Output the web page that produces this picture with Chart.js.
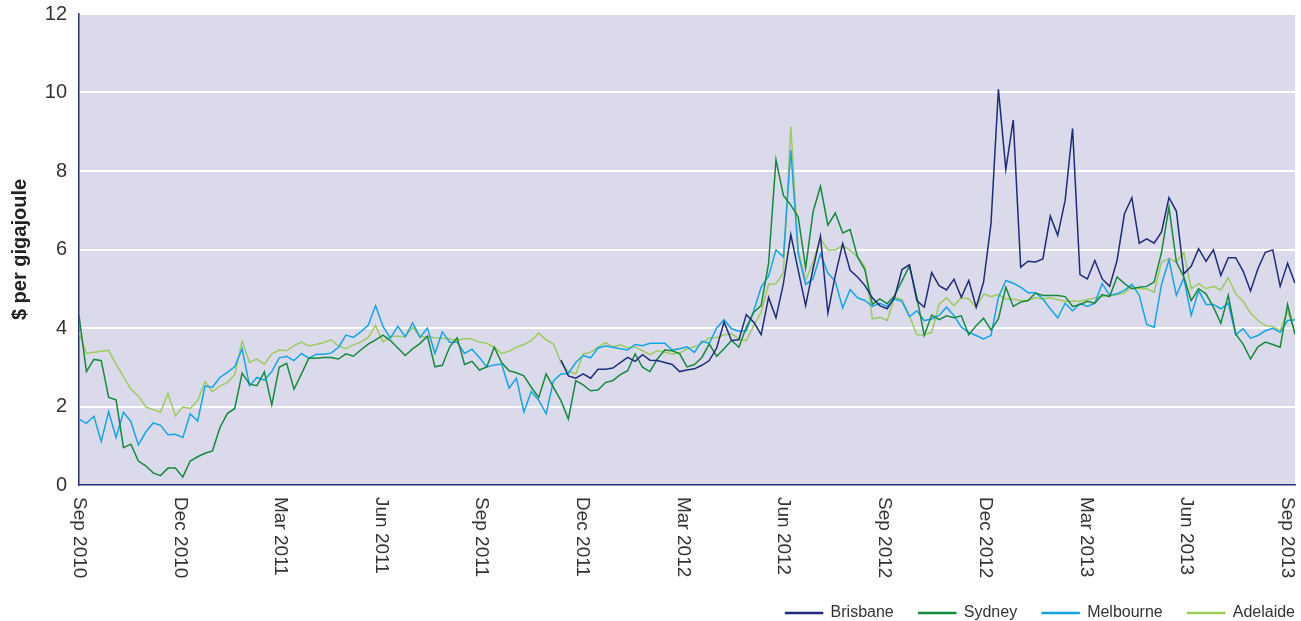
<!DOCTYPE html>
<html lang="en">
<head>
<meta charset="UTF-8" />
<title>Gas prices</title>
<style>
  * { margin: 0; padding: 0; }
  body { background: #fff; }
  .chartBox { width: 1301px; height: 621px; }
</style>
</head>
<body>
<div class="chartBox"><canvas id="myChart"></canvas></div>
<script src="https://cdn.jsdelivr.net/npm/chart.js@4.4.0/dist/chart.umd.min.js"></script>
<script>
// weekly prices, Sep 2010 - Sep 2013 ($ per gigajoule)
const tickLabels = ["Sep 2010", "Dec 2010", "Mar 2011", "Jun 2011", "Sep 2011", "Dec 2011", "Mar 2012",
    "Jun 2012", "Sep 2012", "Dec 2012", "Mar 2013", "Jun 2013", "Sep 2013"];
// position of each quarter label, in weeks from the first point
const tickWeeks = [0, 13.6, 27.2, 40.7, 54.3, 67.9, 81.5, 95.0, 108.6, 122.2, 135.8, 149.3, 162.9];

const sydney = [
    4.32, 2.89, 3.20, 3.17, 2.23, 2.17, 0.95, 1.04, 0.61, 0.49, 0.31, 0.24, 0.43, 0.43, 0.20, 0.61, 0.72, 0.81, 0.87, 1.46, 1.82, 1.95, 2.85, 2.57, 2.53, 2.88, 2.04, 3.00,
    3.10, 2.44, 2.83, 3.23, 3.23, 3.25, 3.25, 3.21, 3.34, 3.28, 3.44, 3.59, 3.70, 3.82, 3.68, 3.49, 3.30, 3.47, 3.61, 3.79, 3.01, 3.05, 3.52, 3.75, 3.07, 3.15, 2.93, 3.01,
    3.51, 3.12, 2.91, 2.86, 2.78, 2.49, 2.23, 2.83, 2.49, 2.15, 1.68, 2.66, 2.55, 2.40, 2.42, 2.61, 2.66, 2.81, 2.91, 3.34, 3.00, 2.89, 3.21, 3.44, 3.42, 3.35, 3.01,
    3.07, 3.25, 3.59, 3.28, 3.47, 3.68, 3.51, 4.02, 4.40, 4.57, 5.64, 8.29, 7.38, 7.13, 6.83, 5.53, 6.96, 7.61, 6.62, 6.93, 6.42, 6.51, 5.81, 5.48, 4.60, 4.74, 4.62,
    4.83, 5.20, 5.58, 4.78, 3.81, 4.33, 4.21, 4.31, 4.26, 4.31, 3.83, 4.06, 4.25, 3.95, 4.23, 5.04, 4.55, 4.66, 4.70, 4.89, 4.83, 4.83, 4.83, 4.80, 4.55, 4.60, 4.68,
    4.63, 4.85, 4.80, 5.30, 5.13, 5.00, 5.04, 5.06, 5.17, 5.93, 7.08, 5.68, 5.30, 4.70, 5.00, 4.87, 4.53, 4.12, 4.83, 3.85, 3.59, 3.21, 3.52, 3.64, 3.58, 3.51, 4.60, 3.83
];

const melbourne = [
    1.68, 1.57, 1.75, 1.11, 1.87, 1.21, 1.85, 1.62, 1.02, 1.35, 1.58, 1.52, 1.28, 1.29, 1.21, 1.81, 1.63, 2.52, 2.49, 2.74, 2.87, 3.01, 3.47, 2.53, 2.74, 2.67, 2.89, 3.24,
    3.28, 3.17, 3.35, 3.23, 3.33, 3.33, 3.36, 3.51, 3.82, 3.76, 3.90, 4.07, 4.57, 4.04, 3.74, 4.04, 3.78, 4.13, 3.76, 4.00, 3.35, 3.90, 3.64, 3.64, 3.35, 3.46, 3.25, 3.01,
    3.06, 3.08, 2.47, 2.72, 1.86, 2.38, 2.16, 1.82, 2.66, 2.83, 2.84, 3.12, 3.30, 3.24, 3.49, 3.54, 3.51, 3.47, 3.44, 3.58, 3.55, 3.61, 3.61, 3.61, 3.44, 3.47, 3.52,
    3.38, 3.66, 3.61, 4.00, 4.21, 3.98, 3.92, 3.93, 4.44, 5.04, 5.32, 5.99, 5.81, 8.53, 5.89, 5.11, 5.25, 5.89, 5.40, 5.19, 4.51, 4.98, 4.77, 4.70, 4.55, 4.63, 4.55,
    4.74, 4.68, 4.29, 4.44, 4.19, 4.23, 4.32, 4.53, 4.32, 4.02, 3.89, 3.81, 3.72, 3.81, 4.78, 5.21, 5.14, 5.04, 4.90, 4.90, 4.74, 4.49, 4.26, 4.63, 4.44, 4.62, 4.55,
    4.63, 5.13, 4.83, 4.87, 4.96, 5.11, 4.83, 4.09, 4.02, 5.11, 5.74, 4.83, 5.28, 4.32, 4.96, 4.60, 4.60, 4.49, 4.63, 3.83, 3.98, 3.74, 3.81, 3.93, 3.99, 3.89, 4.19, 4.21
];

const adelaide = [
    3.89, 3.35, 3.38, 3.41, 3.43, 3.08, 2.76, 2.44, 2.27, 1.99, 1.92, 1.86, 2.33, 1.76, 1.99, 1.95, 2.15, 2.63, 2.38, 2.52, 2.61, 2.81, 3.66, 3.12, 3.21, 3.08, 3.34, 3.44,
    3.42, 3.55, 3.64, 3.54, 3.58, 3.63, 3.70, 3.54, 3.47, 3.57, 3.64, 3.76, 4.06, 3.64, 3.79, 3.79, 3.78, 4.02, 3.78, 3.78, 3.75, 3.74, 3.72, 3.68, 3.73, 3.72, 3.64, 3.61,
    3.51, 3.35, 3.41, 3.51, 3.58, 3.68, 3.87, 3.70, 3.59, 3.12, 2.89, 2.83, 3.34, 3.38, 3.51, 3.63, 3.52, 3.57, 3.49, 3.52, 3.42, 3.32, 3.42, 3.38, 3.34, 3.36, 3.47,
    3.52, 3.61, 3.75, 3.76, 3.83, 3.85, 3.72, 3.68, 4.06, 4.40, 5.11, 5.13, 5.40, 9.13, 5.98, 5.21, 5.68, 6.28, 5.99, 5.99, 6.10, 5.98, 5.81, 5.55, 4.23, 4.27, 4.19,
    4.78, 4.72, 4.32, 3.83, 3.82, 3.89, 4.60, 4.77, 4.57, 4.78, 4.74, 4.53, 4.87, 4.80, 4.85, 4.74, 4.73, 4.70, 4.70, 4.77, 4.74, 4.77, 4.72, 4.68, 4.68, 4.68, 4.72,
    4.77, 4.80, 4.83, 4.85, 4.89, 5.06, 5.00, 5.00, 4.91, 5.68, 5.76, 5.68, 5.93, 5.00, 5.13, 5.00, 5.06, 4.97, 5.28, 4.87, 4.68, 4.38, 4.19, 4.06, 4.04, 3.93, 4.44, 3.89
];

// Brisbane series only starts in late Nov 2011 (week 65)
const brisbaneStart = 65;
const brisbane = [
    3.18, 2.78, 2.72, 2.83, 2.72, 2.95, 2.95, 2.98, 3.12, 3.25, 3.15, 3.32, 3.18, 3.17, 3.12, 3.07, 2.89, 2.93,
    2.96, 3.05, 3.17, 3.49, 4.15, 3.68, 3.70, 4.34, 4.15, 3.83, 4.78, 4.26, 5.13, 6.38, 5.47, 4.57, 5.51, 6.34, 4.38, 5.34, 6.15, 5.47, 5.30, 5.08, 4.77, 4.57, 4.49,
    4.78, 5.49, 5.61, 4.70, 4.53, 5.41, 5.08, 4.97, 5.24, 4.78, 5.21, 4.53, 5.17, 6.66, 10.08, 8.04, 9.30, 5.55, 5.70, 5.68, 5.76, 6.85, 6.36, 7.25, 9.08, 5.36, 5.25,
    5.72, 5.25, 5.06, 5.72, 6.91, 7.32, 6.16, 6.27, 6.16, 6.45, 7.32, 6.98, 5.38, 5.57, 6.02, 5.70, 5.99, 5.34, 5.79, 5.79, 5.45, 4.94, 5.51, 5.93, 5.99, 5.06, 5.65, 5.14
];

const navy = "#25337f";
const fontStack = 'Helvetica, Arial, "Liberation Sans", sans-serif';

function toPoints(values, start) {
    return values.map((v, i) => ({ x: start + i, y: v }));
}

function line(label, values, start, color) {
    return {
        label: label,
        data: toPoints(values, start),
        borderColor: color,
        backgroundColor: color,
        borderWidth: 1.5,
        pointRadius: 0,
        tension: 0,
    };
}

const data = {
    datasets: [
        line("Brisbane", brisbane, brisbaneStart, "#1f2c7c"),
        line("Sydney", sydney, 0, "#138a3e"),
        line("Melbourne", melbourne, 0, "#14a5e8"),
        line("Adelaide", adelaide, 0, "#9dcb5e"),
    ],
};

// lavender plot background, quarter labels written top-to-bottom, legend nudged to the corner
const chartDecor = {
    id: "chartDecor",
    afterLayout(chart) {
        const lg = chart.legend;
        lg.left += 25;
        lg.right += 25;
        lg.top += 10;
        lg.bottom += 10;
    },
    beforeDraw(chart) {
        const { ctx, chartArea: a } = chart;
        ctx.save();
        ctx.fillStyle = "#dadaea";
        ctx.fillRect(a.left, a.top, a.right - a.left, a.bottom - a.top);
        ctx.restore();
    },
    afterDraw(chart) {
        const { ctx, chartArea: a } = chart;
        const x = chart.scales.x;
        ctx.save();
        ctx.font = "19px " + fontStack;
        ctx.fillStyle = "#333";
        ctx.textAlign = "left";
        ctx.textBaseline = "middle";
        tickWeeks.forEach((w, i) => {
            ctx.save();
            ctx.translate(x.getPixelForValue(w), a.bottom + 12);
            ctx.rotate(Math.PI / 2);
            ctx.fillText(tickLabels[i], 0, 0);
            ctx.restore();
        });
        ctx.restore();
    },
};

Chart.defaults.font.family = fontStack;

const options = {
    responsive: true,
    maintainAspectRatio: false,
    animation: false,
    layout: {
        padding: { top: 14, right: 6, left: 0, bottom: 0 },
    },
    scales: {
        x: {
            type: "linear",
            min: 0,
            max: sydney.length - 1,
            grid: { display: false },
            border: { display: true, color: navy, width: 1.5 },
            ticks: { display: false },
            afterFit: function (axis) {
                axis.height = 85;
            },
        },
        y: {
            min: 0,
            max: 12,
            ticks: {
                stepSize: 2,
                color: "#333",
                font: { size: 20 },
                padding: 12,
            },
            grid: { color: "#ffffff", lineWidth: 2, drawTicks: false },
            border: { display: true, color: navy, width: 1.5 },
            title: {
                display: true,
                text: "$ per gigajoule",
                color: "#222",
                font: { size: 20, weight: "bold" },
                padding: { top: 8, bottom: 0 },
            },
            afterFit: function (axis) {
                axis.width = 79;
                axis.paddingTop = 0;
                axis.paddingBottom = 0;
            },
        },
    },
    plugins: {
        legend: {
            position: "bottom",
            align: "end",
            labels: {
                boxWidth: 37,
                boxHeight: 1,
                color: "#333",
                font: { size: 16 },
                padding: 25,
            },
        },
        tooltip: { enabled: false },
    },
};

const ctx = document.getElementById("myChart").getContext("2d");
const myChart = new Chart(ctx, {
    type: "line",
    data: data,
    options: options,
    plugins: [chartDecor],
});
</script>
</body>
</html>
